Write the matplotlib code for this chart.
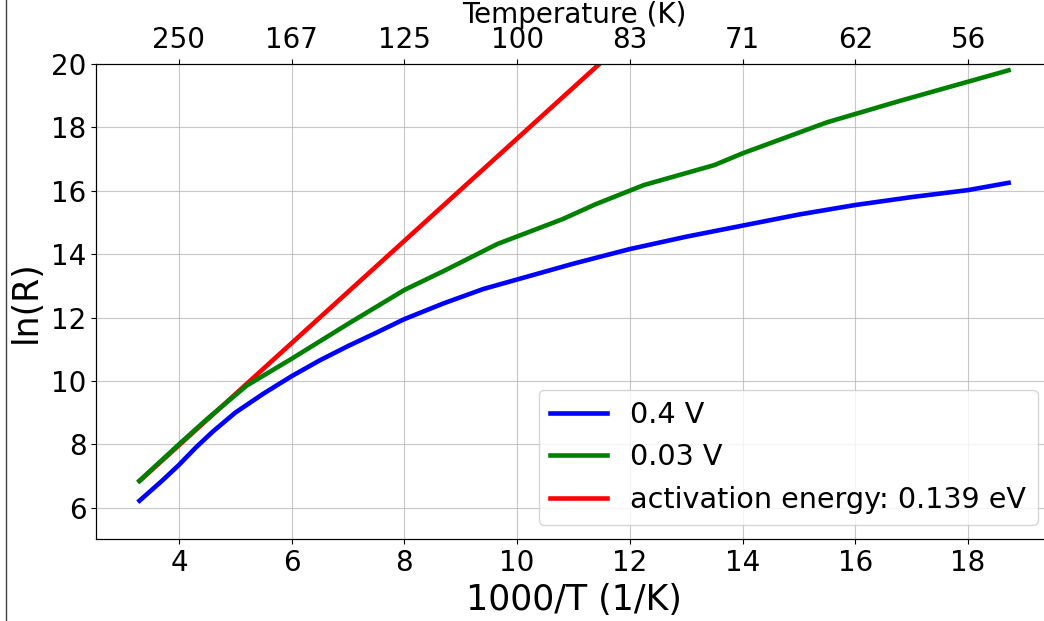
import matplotlib
matplotlib.use("Agg")
import matplotlib.pyplot as plt
from matplotlib.lines import Line2D

# values (x = 1000/T, y = ln(R))
blue_x = [3.3, 3.7, 4.0, 4.3, 4.6, 5.0, 5.5, 6.0, 6.5, 7.0, 7.5, 8.0, 8.7, 9.4, 10.0,
          11.0, 12.0, 13.0, 14.0, 15.0, 16.0, 17.0, 18.0, 18.72]
blue_y = [6.22, 6.85, 7.35, 7.9, 8.4, 9.0, 9.6, 10.15, 10.65, 11.1, 11.52, 11.95, 12.45, 12.9, 13.2,
          13.7, 14.16, 14.55, 14.9, 15.25, 15.55, 15.8, 16.02, 16.25]

green_x = [3.3, 4.0, 4.5, 5.2, 6.0, 7.0, 8.0, 8.7, 9.65, 10.8, 11.4, 12.25, 13.5, 14.0, 15.5, 16.8, 18.72]
green_y = [6.85, 8.0, 8.8, 9.85, 10.7, 11.8, 12.87, 13.47, 14.32, 15.1, 15.58, 16.18, 16.81, 17.18, 18.16, 18.84, 19.8]

red_x = [3.3, 11.8]
red_y = [6.84, 20.55]

labels = ["0.4 V", "0.03 V", "activation energy: 0.139 eV"]
top_ticks = [4, 6, 8, 10, 12, 14, 16, 18]

fig = plt.figure(figsize=(10.44, 6.21), dpi=100)
ax = fig.add_axes([0.092, 0.1314, 0.9157, 0.7656])

# red drawn underneath the green curve
l_red, = ax.plot(red_x, red_y, color="red", lw=3.3, zorder=2)
l_blue, = ax.plot(blue_x, blue_y, color="blue", lw=3.3, zorder=3)
l_green, = ax.plot(green_x, green_y, color="green", lw=3.3, zorder=3)

ax.set_ylim(5, 20)
ax.set_yticks([6, 8, 10, 12, 14, 16, 18, 20])
ax.set_xticks(top_ticks)
ax.grid(True, color="#b0b0b0", lw=0.8, alpha=0.7)
ax.tick_params(labelsize=20)
ax.set_xlabel("1000/T (1/K)", fontsize=25, labelpad=4)
ax.set_ylabel("ln(R)", fontsize=25, labelpad=6)

ax.legend([l_blue, l_green, l_red], labels, loc="lower right", fontsize=20.6)

# top axis: temperature
ax2 = ax.twiny()
ax2.set_xlim(ax.get_xlim())
ax2.set_xticks(top_ticks)
ax2.set_xticklabels([str(round(1000 / t)) for t in top_ticks])
ax2.tick_params(labelsize=20)
ax2.set_xlabel("Temperature (K)", fontsize=20, labelpad=2.5)

# right edge of the axes is cut off in the reference
ax.spines["right"].set_visible(False)
ax2.spines["right"].set_visible(False)

# left border of the screenshot
fig.add_artist(Line2D([5.5 / 1044, 5.5 / 1044], [0, 1], color="#444444", lw=1,
                      transform=fig.transFigure))

fig.savefig("out.png", dpi=100)
